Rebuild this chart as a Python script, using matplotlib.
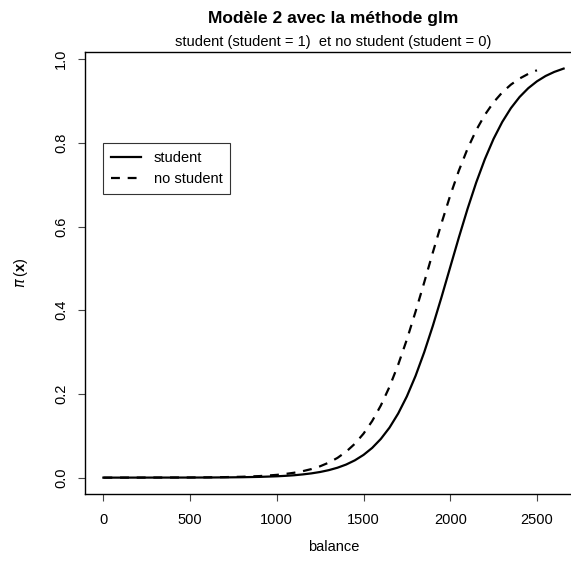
import matplotlib
matplotlib.use("Agg")
import matplotlib.pyplot as plt
from matplotlib.lines import Line2D

plt.rcParams['font.family'] = ['Liberation Sans', 'DejaVu Sans']
plt.rcParams['mathtext.fontset'] = 'custom'
plt.rcParams['mathtext.rm'] = 'Liberation Sans'
plt.rcParams['mathtext.bf'] = 'Liberation Sans:bold'

# ---- data ----
balance_student = [0, 500, 600, 700, 800, 900, 1000, 1050, 1100, 1150, 1200, 1250, 1300,
                   1350, 1400, 1450, 1500, 1550, 1600, 1650, 1700, 1750, 1800, 1850,
                   1900, 1950, 2000, 2050, 2100, 2150, 2200, 2250, 2300, 2350, 2400,
                   2450, 2500, 2550, 2600, 2654]
prob_student = [0.0000, 0.0002, 0.0003, 0.0006, 0.0010, 0.0018, 0.0032, 0.0043, 0.0057,
                0.0077, 0.0102, 0.0135, 0.0179, 0.0237, 0.0313, 0.0413, 0.0543, 0.0710,
                0.0925, 0.1195, 0.1532, 0.1941, 0.2429, 0.2995, 0.3629, 0.4314, 0.5028,
                0.5740, 0.6422, 0.7052, 0.7611, 0.8094, 0.8497, 0.8828, 0.9094, 0.9304,
                0.9468, 0.9596, 0.9693, 0.9773]

balance_nostudent = [0, 500, 600, 700, 800, 900, 1000, 1050, 1100, 1150, 1200, 1250, 1300,
                     1350, 1400, 1450, 1500, 1550, 1600, 1650, 1700, 1750, 1800, 1850,
                     1900, 1950, 2000, 2050, 2100, 2150, 2200, 2250, 2300, 2350, 2400,
                     2450, 2500]
prob_nostudent = [0.0000, 0.0004, 0.0007, 0.0012, 0.0021, 0.0037, 0.0066, 0.0088, 0.0117,
                  0.0155, 0.0205, 0.0272, 0.0359, 0.0472, 0.0620, 0.0809, 0.1050, 0.1352,
                  0.1724, 0.2171, 0.2699, 0.3299, 0.3963, 0.4663, 0.5382, 0.6080, 0.6740,
                  0.7336, 0.7858, 0.8302, 0.8669, 0.8967, 0.9204, 0.9390, 0.9535, 0.9646,
                  0.9733]

x_ticks = [0, 500, 1000, 1500, 2000, 2500]
y_ticks = [0.0, 0.2, 0.4, 0.6, 0.8, 1.0]
legend_labels = ["student", "no student"]

W, H = 571, 564
fig = plt.figure(figsize=(W / 100, H / 100), dpi=100)
ax = fig.add_axes([85 / W, (H - 494) / H, (582 - 85) / W, (494 - 52.3) / H])

dash = (0, (4, 3.5))
ax.plot(balance_student, prob_student, color='black', lw=1.6, ls='-')
ax.plot(balance_nostudent, prob_nostudent, color='black', lw=1.6, ls=dash)

ax.set_xlim(-106, 2760)
ax.set_ylim(-0.0391, 1.0162)
ax.set_xticks(x_ticks)
ax.set_yticks(y_ticks)
ax.set_xticklabels([str(v) for v in x_ticks])
ax.set_yticklabels([f"{v:.1f}" for v in y_ticks])

for s in ax.spines.values():
    s.set_color('black')
    s.set_linewidth(1.0)

ax.tick_params(axis='both', direction='out', length=5, width=0.8, labelsize=10.5,
               color='#444444')
ax.tick_params(axis='x', pad=9)
ax.tick_params(axis='y', pad=7, labelrotation=90)
for lbl in ax.get_yticklabels():
    lbl.set_va('center')

ax.set_xlabel("balance", fontsize=10.5)
ax.xaxis.set_label_coords(0.5, (494 - 547) / (494 - 52.3))
ax.xaxis.label.set_va('center')
ax.set_ylabel(r"$\pi\,(\mathbf{x})$", fontsize=10.5)
ax.yaxis.set_label_coords((21 - 85) / 497, 0.5)
ax.yaxis.label.set_ha('center')
ax.yaxis.label.set_va('center')

# subtitle just above the box
ax.text(0.5, 1.0 + 3 / 441.7, "student (student = 1)  et no student (student = 0)",
        transform=ax.transAxes, ha='center', va='bottom', fontsize=10.5)

fig.text(333.5 / W, 1 - 18 / H, "Modèle 2 avec la méthode glm",
         ha='center', va='center', fontsize=12.5, fontweight='bold')

handles = [Line2D([], [], color='black', lw=1.6, ls='-'),
           Line2D([], [], color='black', lw=1.6, ls=dash)]
leg = ax.legend(handles, legend_labels, loc='upper left',
                bbox_to_anchor=(0, 0.8), bbox_transform=ax.transData,
                borderaxespad=0, fancybox=False, framealpha=1, edgecolor='#333333',
                fontsize=10.5, handlelength=2.0, handletextpad=0.9,
                borderpad=0.55, labelspacing=0.5)
leg.get_frame().set_linewidth(0.8)

fig.savefig("out.png", dpi=100)
